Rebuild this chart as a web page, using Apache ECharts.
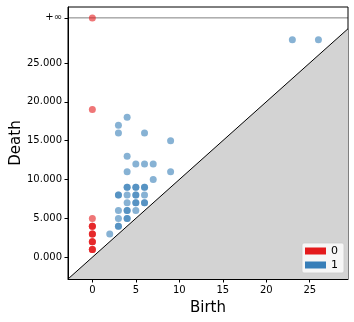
<!DOCTYPE html>
<html>
<head>
<meta charset="utf-8">
<script src="https://cdn.jsdelivr.net/npm/echarts@6/dist/echarts.min.js"></script>
<style>
    html, body { margin: 0; padding: 0; background: #fff; }
    #chart { width: 354px; height: 322px; }
</style>
</head>
<body>
<div id="chart"></div>
<script>
    // persistence pairs, dimension 0 (Infinity goes on the +inf line)
    var birth0 = [0, 0, 0, 0, 0, 0, 0, 0, 0, 0, 0, 0, 0, 0, 0];
    var death0 = [1, 1, 1, 2, 2, 2, 3, 3, 3, 4, 4, 4, 5, 19, Infinity];

    // dimension 1
    var birth1 = [2, 3, 3, 3, 3, 3, 3, 4, 4, 4, 4, 4, 4, 4, 4,
                  5, 5, 5, 5, 5, 5, 5, 6, 6, 6, 6, 6,
                  7, 4, 9, 5, 6, 7, 4, 9, 3, 6, 3, 4, 23, 26];
    var death1 = [3, 4, 4, 5, 6, 8, 8, 5, 5, 6, 6, 7, 8, 9, 9,
                  6, 7, 7, 8, 8, 9, 9, 7, 7, 8, 9, 9,
                  10, 11, 11, 12, 12, 12, 13, 15, 16, 16, 17, 18, 28, 28];

    var xTicks = [0, 5, 10, 15, 20, 25];
    var yTicks = [0, 5, 10, 15, 20, 25];
    var dimNames = ['0', '1'];
    var dimColors = ['#e41a1c', '#377eb8'];

    // limits like gudhi's plot_persistence_diagram
    var finite = death0.concat(death1).filter(function (d) { return isFinite(d); });
    var maxDeath = Math.max.apply(null, finite);
    var minBirth = Math.min.apply(null, birth0.concat(birth1));
    var delta = (maxDeath - minBirth) * 0.1;
    var axisStart = minBirth - delta;
    var infinity = maxDeath + delta;
    var axisEnd = maxDeath + delta / 2;
    var yEnd = infinity + delta / 2;

    function pairs(b, d) {
        return b.map(function (v, i) {
            return [v, isFinite(d[i]) ? d[i] : infinity];
        });
    }

    var font = 'DejaVu Sans';
    var chart = echarts.init(document.getElementById('chart'), null, {renderer: 'canvas'});

    chart.setOption({
        animation: false,
        grid: {
            left: 68, top: 7, right: 6, bottom: 43,
            containLabel: false,
            outerBoundsMode: 'none',
            show: true, borderColor: '#000', borderWidth: 1,
            backgroundColor: 'transparent'
        },
        legend: {
            orient: 'vertical',
            right: 10,
            top: 243,
            icon: 'rect',
            itemWidth: 21,
            itemHeight: 7,
            itemGap: 2,
            padding: [2, 6, 2, 3],
            backgroundColor: 'rgba(255,255,255,0.8)',
            borderColor: 'rgba(204,204,204,0.8)',
            borderWidth: 1,
            borderRadius: 2,
            textStyle: {fontFamily: font, fontSize: 11, color: '#000', lineHeight: 12},
            data: dimNames.map(function (n, i) {
                return {name: n, itemStyle: {color: dimColors[i], opacity: 1}};
            })
        },
        xAxis: {
            type: 'value',
            min: axisStart,
            max: axisEnd,
            name: 'Birth',
            nameLocation: 'middle',
            nameGap: 22,
            nameMoveOverlap: false,
            nameTextStyle: {fontFamily: font, fontSize: 15, color: '#000'},
            splitLine: {show: false},
            axisLine: {show: true, onZero: false, lineStyle: {color: '#000'}},
            axisTick: {show: true, length: 3.5, customValues: xTicks, lineStyle: {color: '#000'}},
            axisLabel: {
                customValues: xTicks, margin: 6,
                fontFamily: font, fontSize: 10, color: '#000'
            }
        },
        yAxis: {
            type: 'value',
            min: axisStart,
            max: yEnd,
            name: 'Death',
            nameLocation: 'middle',
            nameGap: 44,
            nameMoveOverlap: false,
            nameTextStyle: {fontFamily: font, fontSize: 15, color: '#000'},
            splitLine: {show: false},
            axisLine: {show: true, onZero: false, lineStyle: {color: '#000'}},
            axisTick: {show: true, length: 3.5, customValues: yTicks.concat([infinity]), lineStyle: {color: '#000'}},
            axisLabel: {
                customValues: yTicks.concat([infinity]), margin: 6,
                fontFamily: font, fontSize: 10, color: '#000',
                formatter: function (v) {
                    return Math.abs(v - infinity) < 1e-6 ? '+\u221e' : v.toFixed(3);
                }
            }
        },
        series: [
            {
                name: 'diag-area',
                type: 'custom',
                silent: true,
                z: 1,
                data: [[axisStart, axisEnd]],
                renderItem: function (params, api) {
                    var a = api.value(0), b = api.value(1);
                    var p1 = api.coord([a, a]), p2 = api.coord([b, b]), p3 = api.coord([b, a]);
                    return {
                        type: 'polygon',
                        shape: {points: [p1, p2, p3]},
                        style: {fill: '#d3d3d3'}
                    };
                }
            },
            {
                name: 'diag',
                type: 'line',
                silent: true,
                z: 2,
                symbol: 'none',
                data: [[axisStart, axisStart], [axisEnd, axisEnd]],
                lineStyle: {color: '#000', width: 1}
            },
            {
                name: 'inf',
                type: 'line',
                silent: true,
                z: 2,
                symbol: 'none',
                data: [[axisStart, infinity], [axisEnd, infinity]],
                lineStyle: {color: '#000', width: 1, opacity: 0.5}
            },
            {
                name: dimNames[0],
                type: 'scatter',
                z: 3,
                symbolSize: 7,
                itemStyle: {color: dimColors[0], opacity: 0.6},
                data: pairs(birth0, death0)
            },
            {
                name: dimNames[1],
                type: 'scatter',
                z: 3,
                symbolSize: 7,
                itemStyle: {color: dimColors[1], opacity: 0.6},
                data: pairs(birth1, death1)
            }
        ]
    });
</script>
</body>
</html>
